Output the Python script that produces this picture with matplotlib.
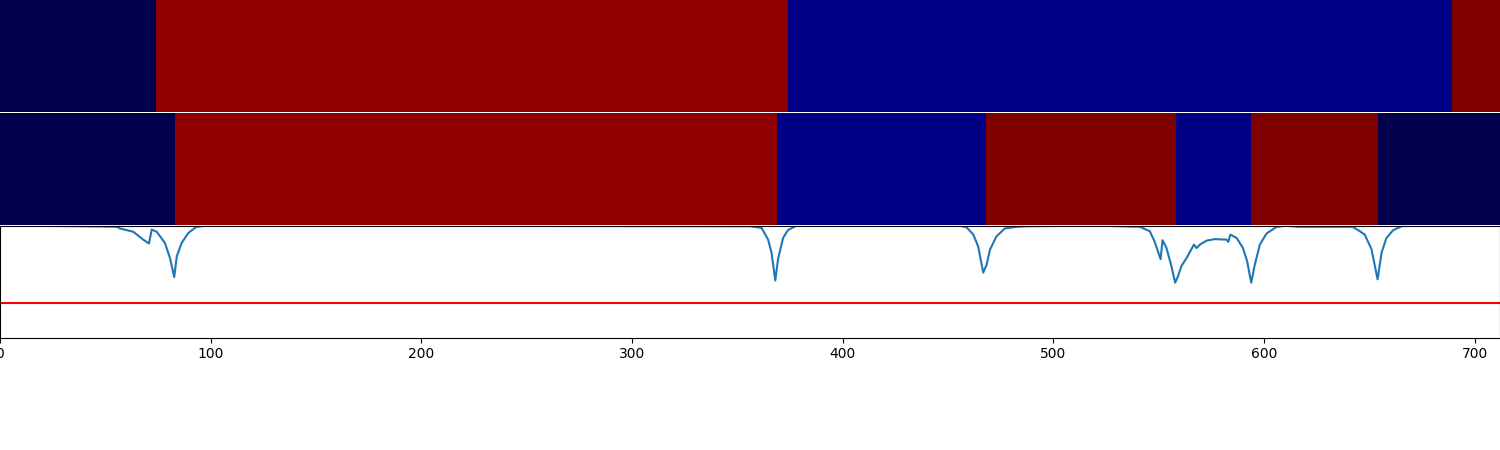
import matplotlib
matplotlib.use("Agg")
import matplotlib.pyplot as plt
import numpy as np

# Segment boundaries and colour values (seismic colormap, 0..1)
top_edges = [0, 74, 374, 689, 712]
top_values = [0.0, 0.965, 0.083, 1.0]

bottom_edges = [0, 83, 369, 468, 558, 594, 654, 712]
bottom_values = [0.0, 0.965, 0.083, 1.0, 0.083, 1.0, 0.0]

# Score curve
score_x = [0, 39.5, 55.4, 57, 63.3, 68, 70.7, 72, 74.4, 78.3, 80.7, 82.7, 83.9, 86.2,
           89.4, 93.3, 98, 356, 361.5, 364.6, 366.2, 368, 369.3, 371.7, 374, 378,
           455.6, 458.8, 462, 464.3, 466.7, 468.3, 469.9, 473, 477, 482.5, 487.3,
           522, 541, 545.8, 548, 550.9, 551.8, 553.7, 556, 557.8, 559.2, 560.8,
           563.2, 566.7, 568, 569.5, 572.7, 576.6, 582.2, 583, 584, 587, 590, 592,
           593.9, 595.6, 598, 601.2, 606, 610.7, 616, 642, 645.5, 647.8, 651,
           653.9, 655.8, 658.1, 661.3, 666, 712]
score_y = [1.0, 0.995, 0.99, 0.975, 0.945, 0.875, 0.84, 0.965, 0.945, 0.845, 0.71, 0.54,
           0.725, 0.845, 0.935, 0.99, 1.0, 0.995, 0.98, 0.875, 0.76, 0.51, 0.70, 0.89,
           0.96, 1.0, 1.0, 0.985, 0.92, 0.815, 0.58, 0.65, 0.785, 0.905, 0.975, 0.99,
           0.995, 1.0, 0.99, 0.95, 0.86, 0.70, 0.87, 0.80, 0.64, 0.49, 0.55, 0.64,
           0.71, 0.83, 0.80, 0.83, 0.866, 0.88, 0.875, 0.855, 0.92, 0.89, 0.80, 0.68,
           0.49, 0.65, 0.83, 0.93, 0.99, 1.0, 0.99, 0.99, 0.95, 0.92, 0.79, 0.52,
           0.76, 0.89, 0.96, 1.0, 1.0]
threshold = 0.31

x_ticks = [0, 100, 200, 300, 400, 500, 600, 700]
x_max = 712

fig, axes = plt.subplots(3, 1, figsize=(15, 4.5), dpi=100, sharex=True)
fig.subplots_adjust(left=0, right=1, top=1, bottom=0.25, hspace=0.009)

cmap = plt.get_cmap("seismic")
for ax, edges, vals in [(axes[0], top_edges, top_values), (axes[1], bottom_edges, bottom_values)]:
    ax.pcolormesh(edges, [0, 1], np.array([vals]), cmap=cmap, vmin=0, vmax=1)
    ax.set_ylim(0, 1)
    ax.axis("off")

ax = axes[2]
ax.set_zorder(2)
ax.patch.set_alpha(0)
ax.plot(score_x, score_y, color="#1f77b4", lw=1.5)
ax.axhline(threshold, color="red", lw=1.5)
ax.set_ylim(0, 1)
ax.set_yticks([])
ax.set_xlim(0, x_max)
ax.set_xticks(x_ticks)
ax.tick_params(axis="x", labelbottom=True)

fig.savefig("out.png", dpi=100)
